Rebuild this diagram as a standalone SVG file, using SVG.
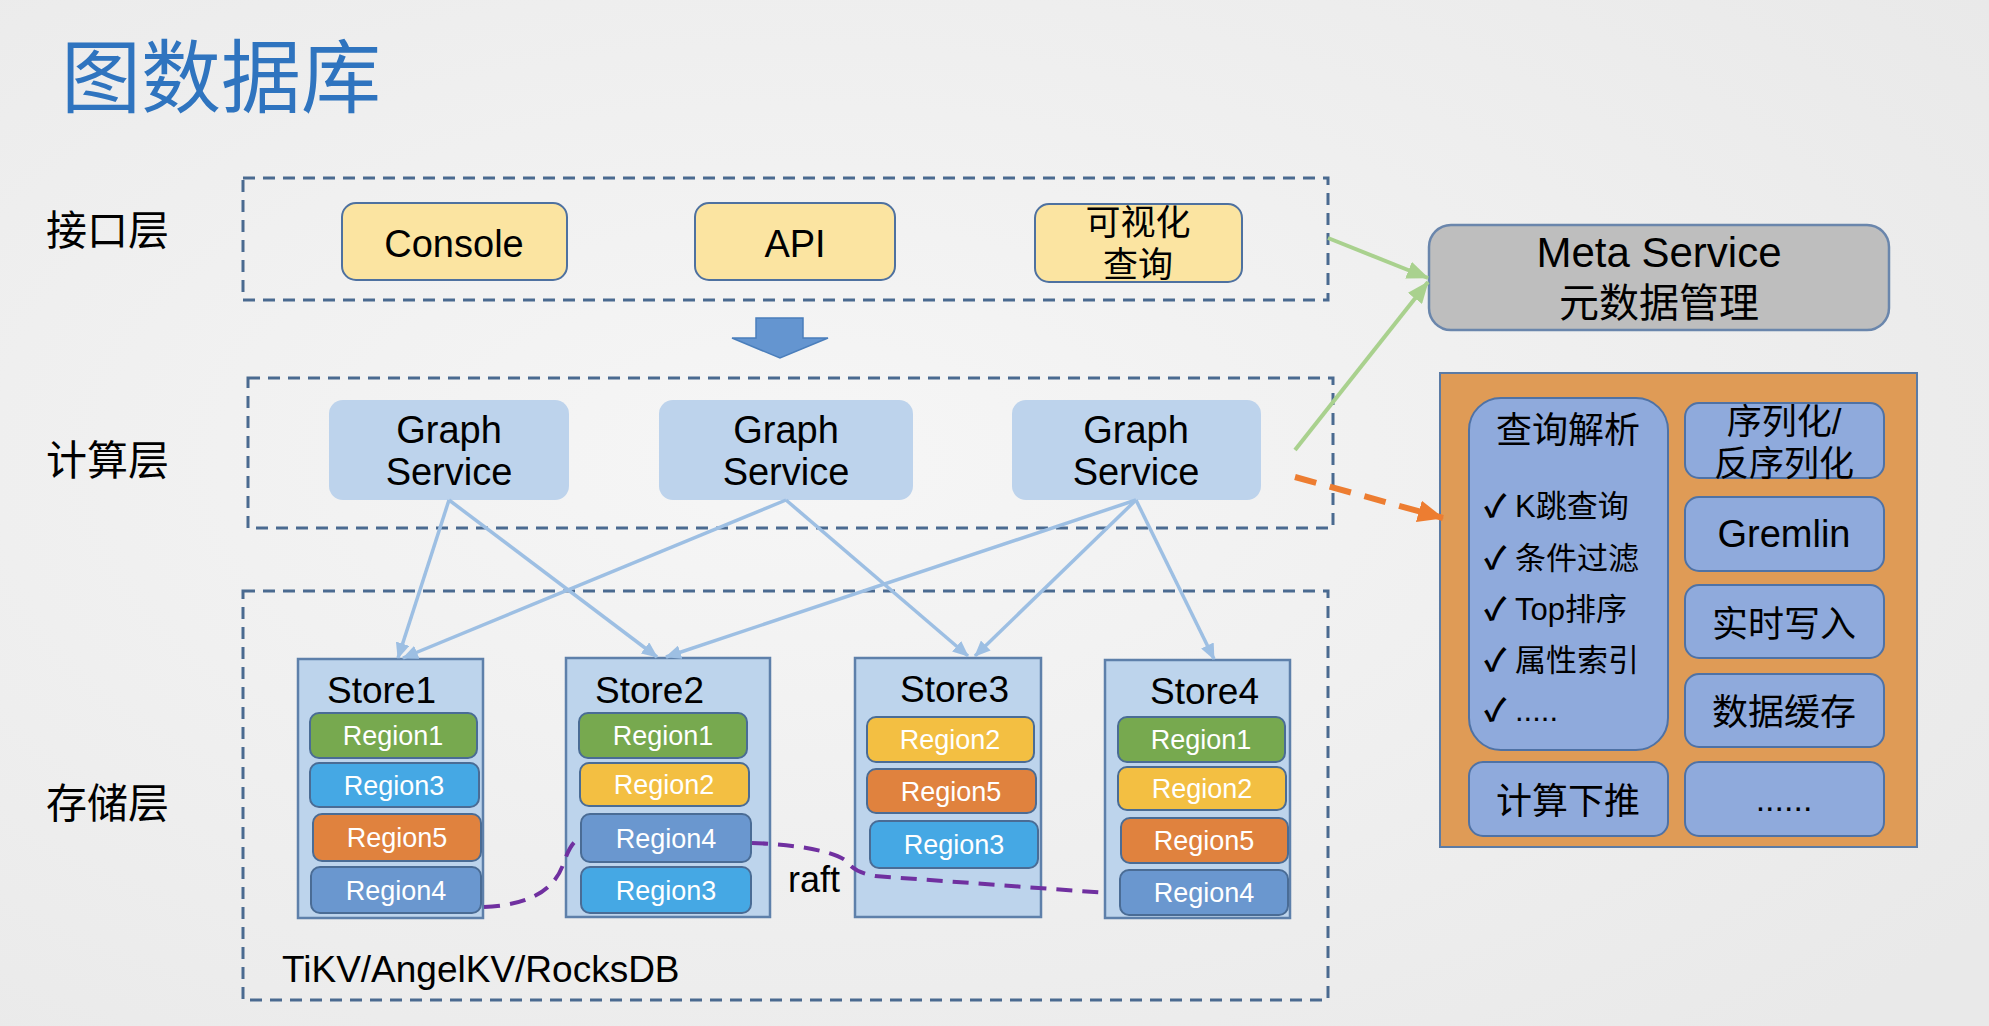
<svg xmlns="http://www.w3.org/2000/svg" width="1989" height="1026" viewBox="0 0 1989 1026">
<defs>
<radialGradient id="bg" cx="0.4" cy="0.45" r="0.75">
<stop offset="0" stop-color="#F6F6F6"/>
<stop offset="1" stop-color="#E9E9E9"/>
</radialGradient>
<marker id="ab" markerUnits="userSpaceOnUse" markerWidth="16" markerHeight="14" refX="15" refY="7" orient="auto">
<path d="M0,0 L16,7 L0,14 z" fill="#9DBFE3"/>
</marker>
<marker id="ag" markerUnits="userSpaceOnUse" markerWidth="22" markerHeight="18" refX="21" refY="9" orient="auto">
<path d="M0,0 L22,9 L0,18 z" fill="#A9D18E"/>
</marker>
<marker id="ao" markerUnits="userSpaceOnUse" markerWidth="26" markerHeight="22" refX="25" refY="11" orient="auto">
<path d="M0,0 L26,11 L0,22 z" fill="#ED7D31"/>
</marker>
</defs>
<style>
text{font-family:"Liberation Sans","Noto Sans CJK SC",sans-serif;fill:#000}
.dash{fill:none;stroke:#4A6A90;stroke-width:3;stroke-dasharray:12 8}
.yel{fill:#FBE4A1;stroke:#4E71A0;stroke-width:2}
.gs{fill:#BDD3EC}
.store{fill:#BDD4EC;stroke:#5E80AA;stroke-width:2.5}
.rg{stroke:#4A6C95;stroke-width:2}
.g{fill:#77A94F}.lb{fill:#45A8E4}.or{fill:#E0823E}.ye{fill:#F3BF42}.st{fill:#6A97CF}
.rt{font-size:27px;fill:#fff;text-anchor:middle}
.c{text-anchor:middle}
.pb{fill:#8FAADC;stroke:#4F72A5;stroke-width:2}
.ck{font-weight:bold}
.conn{stroke:#9DBFE3;stroke-width:3.5;fill:none;marker-end:url(#ab)}
</style>
<rect x="0" y="0" width="1989" height="1026" fill="url(#bg)"/>

<text x="61" y="106" font-size="80" style="fill:#2F74BF">图数据库</text>

<g id="layer-labels">
<text x="46" y="245" font-size="41">接口层</text>
<text x="46" y="475" font-size="41">计算层</text>
<text x="46" y="818" font-size="41">存储层</text>
</g>

<g id="layer-boxes">
<rect id="box-interface" class="dash" x="243" y="178" width="1085" height="122"/>
<rect id="box-compute" class="dash" x="248" y="378" width="1085" height="150"/>
<rect id="box-storage" class="dash" x="243" y="591" width="1085" height="409"/>
</g>

<g id="console"><rect class="yel" x="342" y="203" width="225" height="77" rx="14"/><text class="c" x="454" y="257" font-size="38">Console</text></g>
<g id="api"><rect class="yel" x="695" y="203" width="200" height="77" rx="14"/><text class="c" x="795" y="257" font-size="38">API</text></g>
<g id="visual-query"><rect class="yel" x="1035" y="204" width="207" height="78" rx="14"/><text class="c" x="1138" y="235" font-size="35">可视化</text><text class="c" x="1138" y="277" font-size="35">查询</text></g>

<g id="down-arrow"><polygon points="756,318 803,318 803,338 828,338 780,358 732,338 756,338" fill="#6495D0" stroke="#4A7EBB" stroke-width="1.5"/></g>

<g id="graph1"><rect class="gs" x="329" y="400" width="240" height="100" rx="14"/><text class="c" x="449" y="443" font-size="38">Graph</text><text class="c" x="449" y="485" font-size="38">Service</text></g>
<g id="graph2"><rect class="gs" x="659" y="400" width="254" height="100" rx="14"/><text class="c" x="786" y="443" font-size="38">Graph</text><text class="c" x="786" y="485" font-size="38">Service</text></g>
<g id="graph3"><rect class="gs" x="1012" y="400" width="249" height="100" rx="14"/><text class="c" x="1136" y="443" font-size="38">Graph</text><text class="c" x="1136" y="485" font-size="38">Service</text></g>

<g id="meta-service"><rect x="1429" y="225" width="460" height="105" rx="22" fill="#BEBEBE" stroke="#6A86AC" stroke-width="2.5"/><text class="c" x="1659" y="267" font-size="42">Meta Service</text><text class="c" x="1659" y="317" font-size="40">元数据管理</text></g>

<g id="graph-engine">
<rect x="1440" y="373" width="477" height="474" fill="#DF9B56" stroke="#5B7BA5" stroke-width="2"/>
<g id="query-parse"><rect class="pb" x="1469" y="398" width="199" height="352" rx="32"/>
<text class="c" x="1568" y="443" font-size="36">查询解析</text>
<text x="1484" y="517" font-size="31"><tspan class="ck">✓</tspan><tspan x="1515">K跳查询</tspan></text>
<text x="1484" y="569" font-size="31"><tspan class="ck">✓</tspan><tspan x="1515">条件过滤</tspan></text>
<text x="1484" y="620" font-size="31"><tspan class="ck">✓</tspan><tspan x="1515">Top排序</tspan></text>
<text x="1484" y="671" font-size="31"><tspan class="ck">✓</tspan><tspan x="1515">属性索引</tspan></text>
<text x="1484" y="721" font-size="31"><tspan class="ck">✓</tspan><tspan x="1515">.....</tspan></text>
</g>
<g id="serialize"><rect class="pb" x="1685" y="403" width="199" height="75" rx="14"/><text class="c" x="1784" y="434" font-size="35">序列化/</text><text class="c" x="1784" y="476" font-size="35">反序列化</text></g>
<g id="gremlin"><rect class="pb" x="1685" y="497" width="199" height="74" rx="14"/><text class="c" x="1784" y="547" font-size="38">Gremlin</text></g>
<g id="realtime-write"><rect class="pb" x="1685" y="585" width="199" height="73" rx="14"/><text class="c" x="1784" y="637" font-size="36">实时写入</text></g>
<g id="data-cache"><rect class="pb" x="1685" y="674" width="199" height="73" rx="14"/><text class="c" x="1784" y="725" font-size="36">数据缓存</text></g>
<g id="pushdown"><rect class="pb" x="1469" y="762" width="199" height="74" rx="14"/><text class="c" x="1568" y="814" font-size="36">计算下推</text></g>
<g id="more"><rect class="pb" x="1685" y="762" width="199" height="74" rx="14"/><text class="c" x="1784" y="811" font-size="34">......</text></g>
</g>

<g id="store1"><rect class="store" x="298" y="659" width="185" height="259"/><text x="327" y="703" font-size="37">Store1</text>
<rect class="rg g" x="310" y="713" width="167" height="45" rx="9"/><text class="rt" x="393" y="745">Region1</text>
<rect class="rg lb" x="310" y="763" width="169" height="44" rx="9"/><text class="rt" x="394" y="795">Region3</text>
<rect class="rg or" x="313" y="814" width="168" height="47" rx="9"/><text class="rt" x="397" y="847">Region5</text>
<rect class="rg st" x="311" y="867" width="170" height="46" rx="9"/><text class="rt" x="396" y="900">Region4</text></g>

<g id="store2"><rect class="store" x="566" y="658" width="204" height="259"/><text x="595" y="703" font-size="37">Store2</text>
<rect class="rg g" x="579" y="713" width="168" height="45" rx="9"/><text class="rt" x="663" y="745">Region1</text>
<rect class="rg ye" x="580" y="763" width="169" height="43" rx="9"/><text class="rt" x="664" y="794">Region2</text>
<rect class="rg st" x="581" y="814" width="170" height="48" rx="9"/><text class="rt" x="666" y="848">Region4</text>
<rect class="rg lb" x="581" y="867" width="170" height="46" rx="9"/><text class="rt" x="666" y="900">Region3</text></g>

<g id="store3"><rect class="store" x="855" y="658" width="186" height="259"/><text x="900" y="702" font-size="37">Store3</text>
<rect class="rg ye" x="867" y="717" width="167" height="45" rx="9"/><text class="rt" x="950" y="749">Region2</text>
<rect class="rg or" x="867" y="769" width="169" height="44" rx="9"/><text class="rt" x="951" y="801">Region5</text>
<rect class="rg lb" x="870" y="821" width="168" height="47" rx="9"/><text class="rt" x="954" y="854">Region3</text></g>

<g id="store4"><rect class="store" x="1105" y="660" width="185" height="258"/><text x="1150" y="704" font-size="37">Store4</text>
<rect class="rg g" x="1118" y="717" width="167" height="45" rx="9"/><text class="rt" x="1201" y="749">Region1</text>
<rect class="rg ye" x="1118" y="767" width="168" height="43" rx="9"/><text class="rt" x="1202" y="798">Region2</text>
<rect class="rg or" x="1121" y="818" width="167" height="45" rx="9"/><text class="rt" x="1204" y="850">Region5</text>
<rect class="rg st" x="1120" y="870" width="168" height="45" rx="9"/><text class="rt" x="1204" y="902">Region4</text></g>

<text x="282" y="982" font-size="37">TiKV/AngelKV/RocksDB</text>
<text x="788" y="892" font-size="36">raft</text>

<g id="connectors">
<line class="conn" x1="449" y1="500" x2="398" y2="658"/>
<line class="conn" x1="449" y1="500" x2="657" y2="657"/>
<line class="conn" x1="786" y1="500" x2="403" y2="658"/>
<line class="conn" x1="786" y1="500" x2="968" y2="656"/>
<line class="conn" x1="1136" y1="500" x2="666" y2="657"/>
<line class="conn" x1="1136" y1="500" x2="975" y2="656"/>
<line class="conn" x1="1136" y1="500" x2="1214" y2="659"/>
<line x1="1328" y1="238" x2="1428" y2="278" stroke="#A9D18E" stroke-width="4" marker-end="url(#ag)"/>
<line x1="1295" y1="450" x2="1428" y2="282" stroke="#A9D18E" stroke-width="4" marker-end="url(#ag)"/>
<line x1="1295" y1="477" x2="1443" y2="518" stroke="#ED7D31" stroke-width="6" stroke-dasharray="22 14" marker-end="url(#ao)"/>
<path d="M484 907 C530 905 555 890 564 862 C569 848 574 840 581 838" fill="none" stroke="#7030A0" stroke-width="4" stroke-dasharray="16 10"/>
<path d="M752 843 C790 844 830 850 845 860 C852 868 858 873 875 876 L1107 893" fill="none" stroke="#7030A0" stroke-width="4" stroke-dasharray="16 10"/>
</g>
</svg>
